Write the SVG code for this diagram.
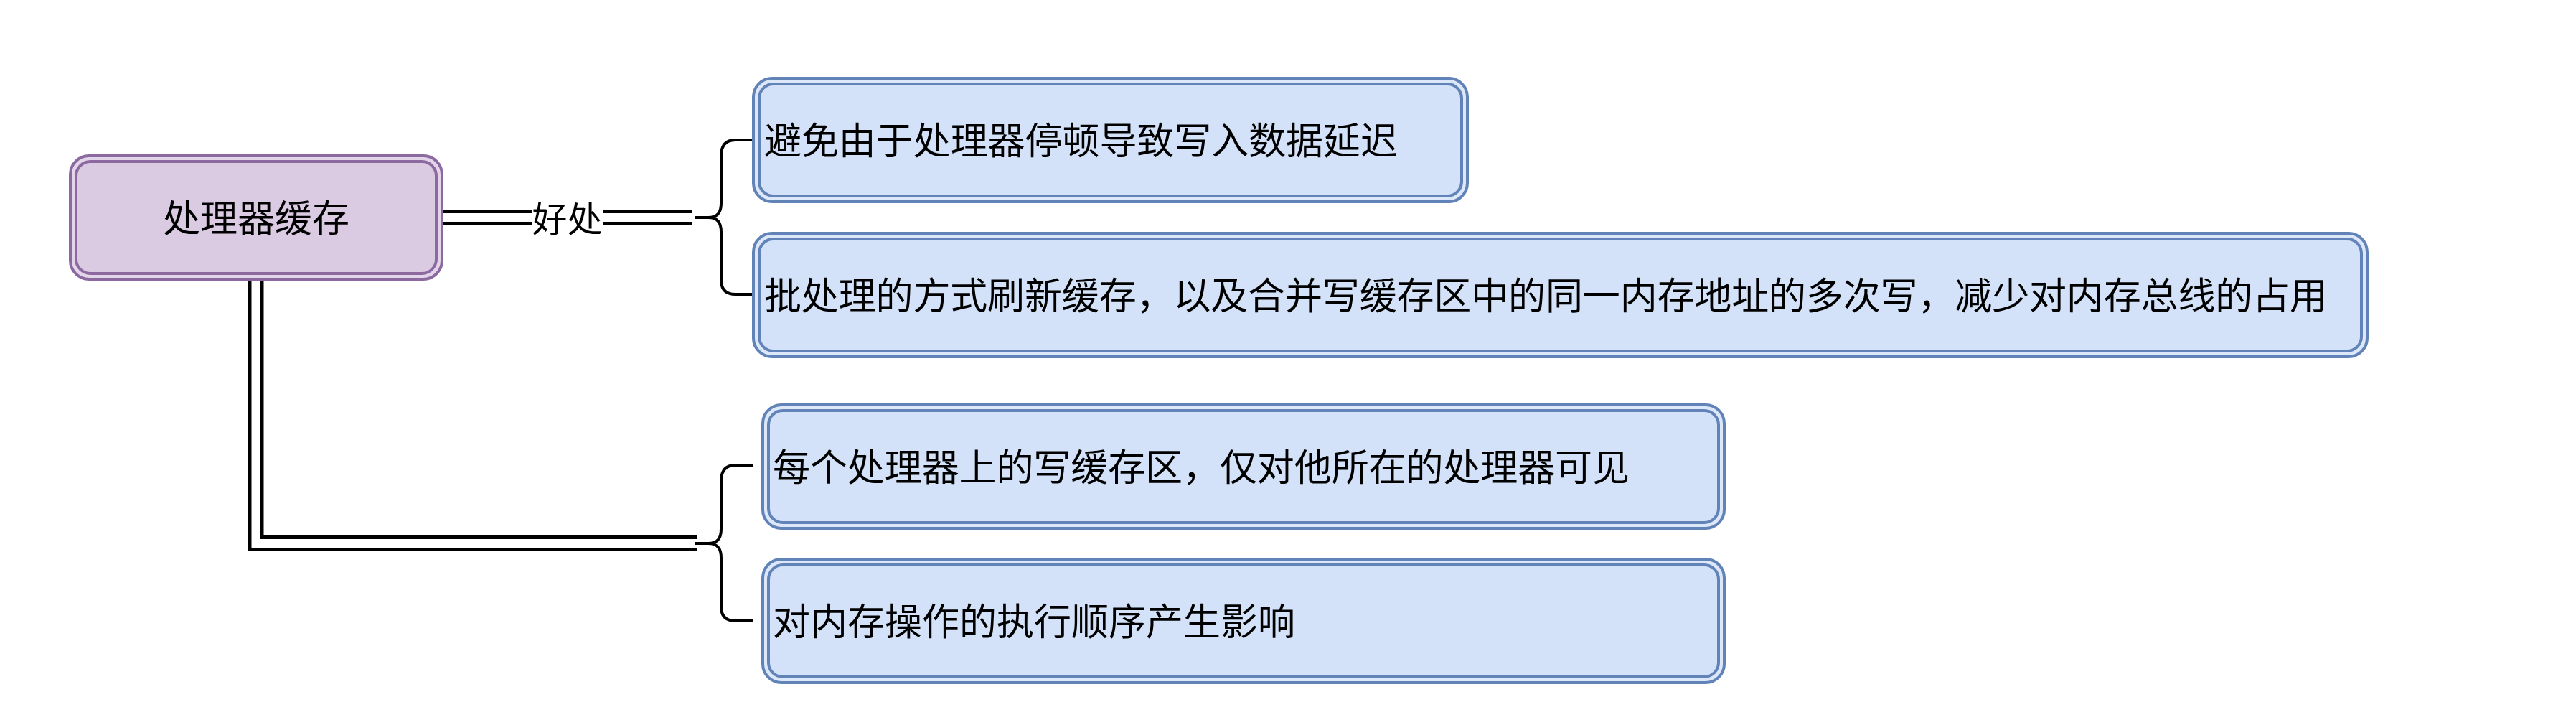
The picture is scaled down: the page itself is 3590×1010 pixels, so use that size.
<svg xmlns="http://www.w3.org/2000/svg" width="3590" height="1010" viewBox="0 0 3590 1010">
<style>
.txt{font-family:"Noto Sans CJK SC","Noto Sans",sans-serif;fill:#000;dominant-baseline:central}
.ro{fill:#e3d6ea;stroke:#8c6a9f;stroke-width:4}
.ri{fill:#dacbe2;stroke:#8c6a9f;stroke-width:4}
.co{fill:#dce7fa;stroke:#6283b8;stroke-width:4}
.ci{fill:#d3e2f8;stroke:#6283b8;stroke-width:4}
.dbl-b{fill:none;stroke:#000;stroke-width:22;stroke-linejoin:miter}
.dbl-w{fill:none;stroke:#fff;stroke-width:12;stroke-linejoin:miter}
.brace{fill:none;stroke:#000;stroke-width:4;stroke-linejoin:round}
</style>
<rect width="3590" height="1010" fill="#fff"/>
<g id="connectors">
  <path class="dbl-b" d="M 618 303 L 964 303"/>
  <path class="dbl-w" d="M 617 303 L 965 303"/>
  <path class="dbl-b" d="M 356.5 392 L 356.5 757 L 972 757"/>
  <path class="dbl-w" d="M 356.5 391 L 356.5 757 L 973 757"/>
  <rect x="742" y="286" width="98" height="34" fill="#fff"/>
  <text class="txt" x="790.5" y="301" font-size="49" text-anchor="middle">好处</text>
  <path class="brace" d="M 969 303 L 987 303 C 1000 303 1005 296 1005 283 L 1005 217 C 1005 203 1011 195 1025 195 L 1049 195"/>
  <path class="brace" d="M 969 303 L 987 303 C 1000 303 1005 310 1005 323 L 1005 390 C 1005 403 1011 410 1025 410 L 1049 410"/>
  <path class="brace" d="M 969 757 L 987 757 C 1000 757 1005 750 1005 737 L 1005 670 C 1005 656 1011 648 1025 648 L 1049 648"/>
  <path class="brace" d="M 969 757 L 987 757 C 1000 757 1005 764 1005 777 L 1005 845 C 1005 858 1011 865 1025 865 L 1049 865"/>
</g>
<g id="root">
  <rect class="ro" x="98" y="217" width="518" height="172" rx="26"/>
  <rect class="ri" x="106" y="225" width="502" height="156" rx="20"/>
  <text class="txt" x="357" y="300" font-size="52" text-anchor="middle">处理器缓存</text>
</g>
<g id="child1">
  <rect class="co" x="1050" y="109" width="995" height="172" rx="26"/>
  <rect class="ci" x="1058" y="117" width="979" height="156" rx="20"/>
  <text class="txt" x="1065" y="192" font-size="52" textLength="883" lengthAdjust="spacing">避免由于处理器停顿导致写入数据延迟</text>
</g>
<g id="child2">
  <rect class="co" x="1050" y="325" width="2249" height="172" rx="26"/>
  <rect class="ci" x="1058" y="333" width="2233" height="156" rx="20"/>
  <text class="txt" x="1065" y="408" font-size="52" textLength="2178" lengthAdjust="spacing">批处理的方式刷新缓存，以及合并写缓存区中的同一内存地址的多次写，减少对内存总线的占用</text>
</g>
<g id="child3">
  <rect class="co" x="1063" y="564" width="1340" height="172" rx="26"/>
  <rect class="ci" x="1071" y="572" width="1324" height="156" rx="20"/>
  <text class="txt" x="1077" y="647" font-size="52" textLength="1194" lengthAdjust="spacing">每个处理器上的写缓存区，仅对他所在的处理器可见</text>
</g>
<g id="child4">
  <rect class="co" x="1063" y="779" width="1340" height="172" rx="26"/>
  <rect class="ci" x="1071" y="787" width="1324" height="156" rx="20"/>
  <text class="txt" x="1077" y="862" font-size="52" textLength="728" lengthAdjust="spacing">对内存操作的执行顺序产生影响</text>
</g>
</svg>
